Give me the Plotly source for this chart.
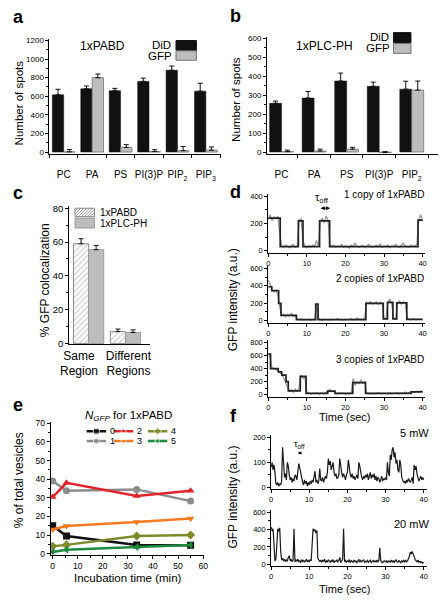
import numpy as np
import plotly.graph_objects as go

W, H = 447, 600
FONT = "Liberation Sans, Arial, sans-serif"

# ---------------- data ----------------
a_categories = ["PC", "PA", "PS", "PI(3)P", "PIP<sub>2</sub>", "PIP<sub>3</sub>"]
a_did = [615, 680, 660, 760, 880, 655]
a_did_err = [60, 30, 25, 35, 45, 85]
a_gfp = [2, 800, 50, 5, 15, 20]
a_gfp_err = [25, 40, 30, 20, 45, 35]

b_categories = ["PC", "PA", "PS", "PI(3)P", "PIP<sub>2</sub>"]
b_did = [257, 285, 375, 347, 332]
b_did_err = [12, 35, 42, 22, 42]
b_gfp = [2, 5, 15, -3, 327]
b_gfp_err = [8, 10, 10, 5, 48]

c_categories = ["Same<br>Region", "Different<br>Regions"]
c_series = ["1xPABD", "1xPLC-PH"]
c_pabd = [59, 7]
c_pabd_err = [3, 1.5]
c_plc = [55.5, 6.5]
c_plc_err = [2.5, 1.5]

# panel d: raw GFP traces (0.5 s sampling, 0-40 s) and fitted step levels
d1_raw = [230, 265, 220, 250, 235, 255, 120, 35, 25, 40,
          30, 20, 35, 45, 25, 30, 225, 235, 80, 30,
          20, 35, 25, 40, 30, 75, 35, 215, 240, 205,
          255, 225, 50, 30, 40, 25, 35, 30, 45, 25,
          35, 30, 20, 40, 30, 55, 30, 25, 35, 40,
          25, 30, 45, 30, 25, 35, 40, 30, 50, 25,
          35, 30, 40, 25, 35, 30, 45, 30, 25, 40,
          55, 35, 30, 25, 40, 30, 35, 45, 230, 265,
          215]
d1_step_t = [0, 3.1, 7.8, 9.0, 13.3, 15.9, 38.8, 40]
d1_step_v = [240, 30, 220, 30, 220, 30, 225, 225]

d2_raw = [470, 410, 360, 330, 350, 300, 150, 60, 75, 45,
          70, 55, 85, 50, 60, 20, 10, 25, 5, 15,
          10, 20, 5, 15, 10, 180, 30, 10, 5, 20,
          10, 15, 5, 20, 10, 15, 25, 10, 15, 5,
          20, 10, 15, 25, 10, 15, 30, 15, 20, 10,
          40, 210, 195, 220, 190, 205, 215, 185, 210, 200,
          30, 20, 210, 250, 190, 25, 15, 200, 225, 190,
          215, 200, 30, 15, 10, 20, 15, 10, 20, 15,
          10]
d2_step_t = [0, 0.9, 2.7, 3.3, 7.3, 12.3, 12.9, 25.3, 29.8, 30.9, 32.3, 33.3, 35.9, 40]
d2_step_v = [390, 345, 200, 60, 12, 190, 12, 200, 20, 210, 20, 205, 15, 15]

d3_raw = [640, 560, 410, 400, 390, 370, 340, 310, 260, 190,
          110, 50, 80, 40, 90, 50, 120, 300, 250, 260,
          40, 20, 10, 25, 15, 30, 10, 20, 25, 15,
          35, 60, 80, 45, 55, 20, 10, 30, 15, 25,
          10, 20, 15, 30, 250, 140, 200, 170, 230, 180,
          200, 25, 15, 20, 10, 25, 15, 30, 20, 15,
          25, 20, 10, 30, 15, 25, 20, 35, 15, 30,
          20, 40, 25, 35, 30, 45, 35, 55, 40, 60,
          45]
d3_step_t = [0, 0.6, 2.6, 3.5, 4.6, 5.2, 8.3, 9.8, 15.4, 17.3, 21.9, 25.2, 37, 40]
d3_step_v = [620, 400, 350, 300, 200, 60, 280, 20, 55, 20, 185, 20, 45, 45]
d_labels = ["1 copy of 1xPABD", "2 copies of 1xPABD", "3 copies of 1xPABD"]

# panel e
e_time = [0, 5.5, 33.5, 55]
e_labels = ["0", "1", "2", "3", "4", "5"]
e_values = [
    [15, 9.5, 4.7, 4.5],
    [39, 33.8, 34.5, 28.2],
    [30.4, 38, 31, 33.8],
    [13, 14.8, 17, 18.8],
    [4, 4.7, 9.5, 10],
    [0.9, 2.1, 3.5, 4.6],
]

# panel f: GFP traces (0.25 s sampling, 0-40 s)
f1_raw = [80, 100, 70, 90, 60, 15, 10, 20, 5, 15, 10, 25, 160, 70, 40, 55, 30, 100, 85, 50,
          30, 40, 20, 35, 25, 50, 45, 30, 70, 95, 80, 60, 25, 20, 10, 30, 15, 25, 5, 20,
          10, 25, 15, 30, 20, 40, 65, 20, 30, 15, 25, 75, 30, 25, 40, 20, 30, 45, 35, 60,
          115, 90, 105, 70, 85, 100, 60, 45, 55, 35, 40, 50, 115, 80, 60, 40, 55, 45, 30, 50,
          60, 110, 70, 50, 40, 55, 35, 45, 30, 40, 50, 35, 100, 85, 55, 40, 30, 45, 35, 50,
          40, 55, 30, 45, 60, 35, 50, 40, 55, 30, 45, 25, 40, 35, 20, 30, 45, 25, 35, 30,
          40, 30, 100, 60, 45, 130, 110, 150, 160, 120, 140, 95, 110, 70, 60, 110, 90, 40, 30, 20,
          25, 15, 30, 20, 35, 25, 20, 30, 40, 15, 90, 70, 85, 55, 40, 25, 35, 45, 30, 40,
          30]
f2_raw = [430, 380, 410, 150, 40, 60, 300, 410, 380, 420, 150, 50, 70, 40, 60, 30, 50, 40, 80, 100,
          40, 60, 30, 50, 410, 30, 50, 40, 60, 30, 45, 20, 55, 35, 50, 25, 40, 60, 30, 45,
          30, 55, 40, 200, 410, 380, 400, 360, 390, 70, 40, 30, 50, 25, 45, 35, 60, 20, 40, 30,
          50, 35, 25, 45, 30, 55, 20, 40, 35, 50, 30, 45, 80, 20, 40, 60, 410, 30, 45, 25,
          40, 30, 55, 20, 45, 35, 25, 50, 30, 40, 20, 35, 60, 25, 45, 30, 40, 55, 20, 35,
          30, 45, 25, 40, 50, 20, 35, 45, 30, 40, 25, 50, 30, 45, 190, 40, 25, 20, 35, 40,
          30, 45, 20, 40, 35, 25, 50, 30, 45, 20, 40, 55, 30, 25, 45, 35, 20, 40, 30, 50,
          25, 45, 30, 40, 60, 90, 140, 120, 150, 110, 80, 60, 40, 30, 50, 25, 35, 20, 30, 15,
          25]
f_labels = ["5 mW", "20 mW"]

# ---------------- helpers ----------------
def px(x):
    return x / W


def py(y):
    return 1 - y / H


def xdom(a, b):
    return [px(a), px(b)]


def ydom(top, bottom):
    return [py(bottom), py(top)]


def axis(**kw):
    d = dict(showline=True, linecolor="black", linewidth=1, ticks="outside", ticklen=3,
             tickwidth=1, tickcolor="black", showgrid=False, zeroline=False,
             tickfont=dict(family=FONT, size=8, color="black"), fixedrange=True)
    d.update(kw)
    return d


annotations = []


def text(t, x, y, size, xanchor="center", yanchor="middle", angle=0, bold=False):
    if bold:
        t = "<b>" + t + "</b>"
    annotations.append(dict(text=t, x=px(x), y=py(y), xref="paper", yref="paper",
                            xanchor=xanchor, yanchor=yanchor, showarrow=False, textangle=angle,
                            font=dict(family=FONT, size=size, color="black")))


shapes = []


def rect(x0, y0, x1, y1, fill, line):
    shapes.append(dict(type="rect", xref="paper", yref="paper", x0=px(x0), x1=px(x1),
                       y0=py(y1), y1=py(y0), fillcolor=fill, line=dict(color=line, width=1)))


def hatch_rect(x0, y0, x1, y1, color, step=3.0):
    rect(x0, y0, x1, y1, "white", color)
    h = y1 - y0
    segs = []
    k = x0 - h
    while k < x1:
        sx, sy = k, y1
        ex, ey = k + h, y0
        if sx < x0:
            sy = y1 - (x0 - sx)
            sx = x0
        if ex > x1:
            ey = y0 + (ex - x1)
            ex = x1
        if ex > sx:
            segs.append("M%.4f,%.4f L%.4f,%.4f" % (px(sx), py(sy), px(ex), py(ey)))
        k += step
    shapes.append(dict(type="path", xref="paper", yref="paper", path=" ".join(segs),
                       line=dict(color=color, width=0.8)))


fig = go.Figure()
BLACK = "#111111"
GREY = "#bdbdbd"


def err(arr):
    return dict(type="data", symmetric=False, array=arr, arrayminus=[0] * len(arr),
                color=BLACK, thickness=1, width=2.5)


# ---------------- panel a ----------------
a_idx = list(range(len(a_categories)))
fig.add_trace(go.Bar(x=a_idx, y=a_did, width=0.40, offset=-0.40, error_y=err(a_did_err),
                     marker=dict(color=BLACK, line=dict(color=BLACK, width=0.5)),
                     xaxis="x", yaxis="y"))
fig.add_trace(go.Bar(x=a_idx, y=a_gfp, width=0.40, offset=0.0, error_y=err(a_gfp_err),
                     marker=dict(color=GREY, line=dict(color="#707070", width=0.8)),
                     xaxis="x", yaxis="y"))

# ---------------- panel b ----------------
b_idx = list(range(len(b_categories)))
fig.add_trace(go.Bar(x=b_idx, y=b_did, width=0.367, offset=-0.367, error_y=err(b_did_err),
                     marker=dict(color=BLACK, line=dict(color=BLACK, width=0.5)),
                     xaxis="x2", yaxis="y2"))
fig.add_trace(go.Bar(x=b_idx, y=b_gfp, width=0.367, offset=0.0, error_y=err(b_gfp_err),
                     marker=dict(color=GREY, line=dict(color="#707070", width=0.8)),
                     xaxis="x2", yaxis="y2"))

# ---------------- panel c ----------------
c_idx = list(range(len(c_categories)))
fig.add_trace(go.Bar(x=c_idx, y=c_pabd, width=0.41, offset=-0.41, error_y=err(c_pabd_err),
                     marker=dict(color="white", line=dict(color="#8a8a8a", width=1),
                                 pattern=dict(shape="/", fgcolor="#8a8a8a", bgcolor="white",
                                              size=4, solidity=0.25)),
                     xaxis="x3", yaxis="y3"))
fig.add_trace(go.Bar(x=c_idx, y=c_plc, width=0.41, offset=0.0, error_y=err(c_plc_err),
                     marker=dict(color=GREY, line=dict(color="#9a9a9a", width=1)),
                     xaxis="x3", yaxis="y3"))

# ---------------- panel d ----------------
for raw, st, sv, ax in [(d1_raw, d1_step_t, d1_step_v, "4"),
                        (d2_raw, d2_step_t, d2_step_v, "5"),
                        (d3_raw, d3_step_t, d3_step_v, "6")]:
    t = np.linspace(0, 40, len(raw))
    fig.add_trace(go.Scatter(x=t, y=raw, mode="lines", line=dict(color="#9a9a9a", width=1.3),
                             xaxis="x" + ax, yaxis="y" + ax))
    fig.add_trace(go.Scatter(x=st, y=sv, mode="lines", line=dict(color="#222222", width=1.7, shape="hv"),
                             xaxis="x" + ax, yaxis="y" + ax))

# ---------------- panel e ----------------
e_colors = ["#111111", "#8c8c8c", "#e3242b", "#f47b20", "#7d8a2a", "#1e8a3f"]
e_symbols = ["square", "circle", "triangle-up", "triangle-down", "diamond", "triangle-left"]
for i, vals in enumerate(e_values):
    fig.add_trace(go.Scatter(x=e_time, y=vals, mode="lines+markers", name=e_labels[i],
                             line=dict(color=e_colors[i], width=2.5),
                             marker=dict(symbol=e_symbols[i], size=7, color=e_colors[i]),
                             xaxis="x7", yaxis="y7"))

# legend samples for panel e (drawn on a hidden overlay axis in pixel units)
leg_cols = [80, 108, 143]
leg_rows = [433, 443]
for i, lab in enumerate(e_labels):
    c0 = leg_cols[i // 2]
    r0 = leg_rows[i % 2]
    fig.add_trace(go.Scatter(x=[c0, c0 + 10, c0 + 20], y=[r0, r0, r0], mode="lines+markers",
                             line=dict(color=e_colors[i], width=2.5),
                             marker=dict(symbol=e_symbols[i], size=[0, 6, 0], color=e_colors[i]),
                             xaxis="x10", yaxis="y10"))
    annotations.append(dict(text=lab, x=c0 + 22, y=r0, xref="x10", yref="y10", xanchor="left",
                            yanchor="middle", showarrow=False,
                            font=dict(family=FONT, size=9, color="black")))

# ---------------- panel f ----------------
for raw, ax in [(f1_raw, "8"), (f2_raw, "9")]:
    t = np.linspace(0, 40, len(raw))
    fig.add_trace(go.Scatter(x=t, y=raw, mode="lines", line=dict(color="#1a1a1a", width=1.2),
                             xaxis="x" + ax, yaxis="y" + ax))

# ---------------- axes ----------------
lay = {}
lay["xaxis"] = axis(domain=xdom(41.7, 218.3), anchor="y", range=[-0.5, 5.53],
                    tickmode="array", tickvals=a_idx, ticktext=a_categories, ticks="",
                    tickfont=dict(family=FONT, size=10, color="black"), ticklabelstandoff=11,
                    minor=dict(tickmode="array", tickvals=[i - 0.5 for i in range(len(a_idx) + 1)],
                               ticks="outside", ticklen=3, tickcolor="black"))
lay["yaxis"] = axis(domain=ydom(35, 152.5), anchor="x", range=[-26, 1221], dtick=200,
                    minor=dict(dtick=100, ticks="outside", ticklen=2, tickcolor="black"))

lay["xaxis2"] = axis(domain=xdom(265.7, 442.3), anchor="y2", range=[-0.448, 4.82],
                     tickmode="array", tickvals=b_idx, ticktext=b_categories, ticks="",
                     tickfont=dict(family=FONT, size=10, color="black"), ticklabelstandoff=11,
                     minor=dict(tickmode="array", tickvals=[i - 0.5 for i in range(len(b_idx) + 1)],
                                ticks="outside", ticklen=3, tickcolor="black"))
lay["yaxis2"] = axis(domain=ydom(33, 152.5), anchor="x2", range=[-13, 610], dtick=100,
                     minor=dict(dtick=50, ticks="outside", ticklen=2, tickcolor="black"))

lay["xaxis3"] = axis(domain=xdom(62, 145), anchor="y3", range=[-0.526, 1.66],
                     tickmode="array", tickvals=[-0.26, 1.08], ticktext=c_categories, ticks="",
                     tickfont=dict(family=FONT, size=12, color="black"), ticklabelstandoff=0)
lay["yaxis3"] = axis(domain=ydom(205, 345), anchor="x3", range=[-0.58, 81.2], dtick=20,
                     tickfont=dict(family=FONT, size=9.5, color="black"),
                     minor=dict(dtick=10, ticks="outside", ticklen=2, tickcolor="black"))

tf7 = dict(family=FONT, size=7.5, color="black")
for ax, top, bot, rng, dt in [("4", 193, 252, [-15, 415], 200),
                              ("5", 266, 323, [-23, 623], 200),
                              ("6", 341, 398, [-30, 830], 200)]:
    lay["xaxis" + ax] = axis(domain=xdom(267, 428), anchor="y" + ax, range=[0, 40.5], dtick=10,
                             tickfont=tf7, minor=dict(dtick=5, ticks="outside", ticklen=2, tickcolor="black"))
    lay["yaxis" + ax] = axis(domain=ydom(top, bot), anchor="x" + ax, range=rng, dtick=dt,
                             tickfont=tf7, minor=dict(dtick=dt / 2, ticks="outside", ticklen=2, tickcolor="black"))

lay["xaxis7"] = axis(domain=xdom(43, 201), anchor="y7", range=[-0.77, 60.4], dtick=10,
                     tickfont=dict(family=FONT, size=8.5, color="black"),
                     minor=dict(dtick=5, ticks="outside", ticklen=2, tickcolor="black"))
lay["yaxis7"] = axis(domain=ydom(424, 558), anchor="x7", range=[-0.5, 70.5], dtick=10,
                     tickfont=dict(family=FONT, size=8.5, color="black"),
                     minor=dict(dtick=5, ticks="outside", ticklen=2, tickcolor="black"))

for ax, top, bot, rng, dt in [("8", 437, 492, [-8, 208], 100),
                              ("9", 513, 570, [-23, 623], 200)]:
    lay["xaxis" + ax] = axis(domain=xdom(270, 431), anchor="y" + ax, range=[0, 41], dtick=10,
                             tickfont=tf7, minor=dict(dtick=5, ticks="outside", ticklen=2, tickcolor="black"))
    lay["yaxis" + ax] = axis(domain=ydom(top, bot), anchor="x" + ax, range=rng, dtick=dt,
                             tickfont=tf7, minor=dict(dtick=dt / 2, ticks="outside", ticklen=2, tickcolor="black"))

lay["xaxis10"] = dict(domain=xdom(75, 175), anchor="y10", range=[75, 175], visible=False, fixedrange=True)
lay["yaxis10"] = dict(domain=ydom(426, 450), anchor="x10", range=[450, 426], visible=False, fixedrange=True)

# ---------------- legends / labels ----------------
rect(172, 37, 193, 47, BLACK, BLACK)
rect(172, 47.5, 193, 57, GREY, "#707070")
rect(396, 29, 414, 39, BLACK, BLACK)
rect(396, 40, 414, 50, GREY, "#707070")
hatch_rect(68, 207, 88, 215.5, "#8a8a8a")
rect(68, 217, 88, 227, GREY, "#9a9a9a")

text("a", 2, 13, 18, xanchor="left", bold=True)
text("b", 226, 12, 18, xanchor="left", bold=True)
text("c", 2, 192, 18, xanchor="left", bold=True)
text("d", 226, 191, 18, xanchor="left", bold=True)
text("e", 2, 406, 18, xanchor="left", bold=True)
text("f", 226, 418, 18, xanchor="left", bold=True)

text("1xPABD", 96, 43, 12)
text("DiD", 169, 41.5, 11.5, xanchor="right")
text("GFP", 170, 52.5, 11.5, xanchor="right")
text("Number of spots", 10, 100, 11.5, angle=-90)

text("1xPLC-PH", 325, 43, 12)
text("DiD", 393, 33.5, 11.5, xanchor="right")
text("GFP", 394, 45, 11.5, xanchor="right")
text("Number of spots", 234, 97, 11.5, angle=-90)

text(c_series[0], 92, 211, 10, xanchor="left")
text(c_series[1], 92, 222, 10, xanchor="left")
text("% GFP colocalization", 37, 280, 12, angle=-90)

text("GFP intensity (a.u.)", 231, 300, 12, angle=-90)
text(d_labels[0], 430, 193, 10, xanchor="right")
text(d_labels[1], 430, 278, 10, xanchor="right")
text(d_labels[2], 430, 360, 10, xanchor="right")
text("τ<sub>off</sub>", 322, 197, 11)
text("Time (sec)", 346, 419, 11)

text("<i>N</i><sub><i>GFP</i></sub> for 1xPABD", 123, 418, 11.5)
text("% of total vesicles", 10, 483, 12, angle=-90)
text("Incubation time (min)", 123, 582, 11.5)

text("GFP intensity (a.u.)", 231, 500, 12, angle=-90)
text(f_labels[0], 435, 435, 11, xanchor="right")
text(f_labels[1], 435, 527, 11, xanchor="right")
text("τ<sub>off</sub>", 299, 446, 9)
text("Time (sec)", 346, 593, 11)

# double-headed tau arrows
annotations.append(dict(x=16.0, y=313, ax=13.2, ay=313, xref="x4", yref="y4", axref="x4", ayref="y4",
                        text="", showarrow=True, arrowside="end+start", arrowhead=2, arrowsize=0.8,
                        arrowwidth=1, arrowcolor="black"))
annotations.append(dict(x=8.0, y=137, ax=6.8, ay=137, xref="x8", yref="y8", axref="x8", ayref="y8",
                        text="", showarrow=True, arrowside="end+start", arrowhead=2, arrowsize=0.6,
                        arrowwidth=1, arrowcolor="black"))

fig.update_layout(width=W, height=H, margin=dict(l=0, r=0, t=0, b=0), showlegend=False,
                  paper_bgcolor="white", plot_bgcolor="white", barmode="overlay",
                  font=dict(family=FONT, color="black"),
                  annotations=annotations, shapes=shapes, **lay)

fig.write_html("out.html", config={"displayModeBar": False},
               post_script="document.body.style.margin='0';")
